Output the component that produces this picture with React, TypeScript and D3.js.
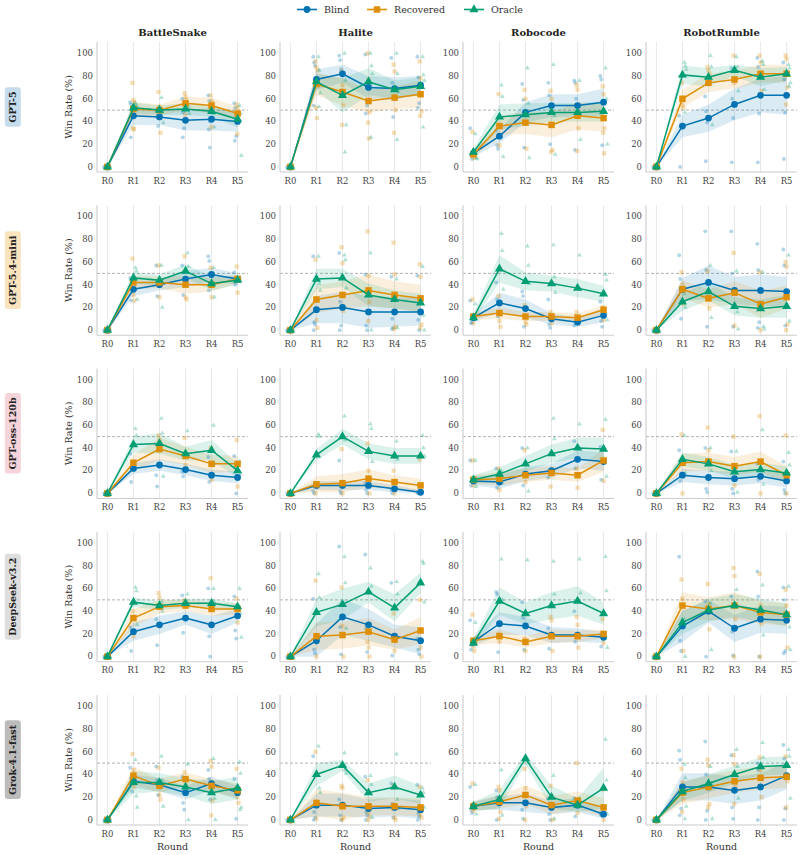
import { useEffect, useRef } from "react";
import * as d3 from "d3";

const GAMES = ["BattleSnake", "Halite", "Robocode", "RobotRumble"];
const MODELS = ["GPT-5", "GPT-5.4-mini", "GPT-oss-120b", "DeepSeek-v3.2", "Grok-4.1-fast"];
const MODEL_BOX = ["#c5dced", "#fae3bf", "#f6d4db", "#dedede", "#bcbcbc"];
const ROUNDS = ["R0", "R1", "R2", "R3", "R4", "R5"];
const SERIES = ["Blind", "Recovered", "Oracle"];
const SERIES_COLORS = ["#0173b2", "#de8f05", "#029e73"];
const Y_TICKS = [0, 20, 40, 60, 80, 100];

// mean win rate per [model][game][round]
const blindMean = [
  [[0, 45, 44, 41, 42, 40], [0, 77, 82, 70, 69, 72], [12, 27, 48, 54, 54, 57], [0, 36, 43, 55, 63, 63]],
  [[0, 36, 40, 45, 49, 45], [0, 18, 20, 16, 16, 16], [11, 24, 19, 10, 7, 13], [0, 36, 42, 35, 35, 34]],
  [[0, 22, 25, 21, 16, 14], [0, 7, 7, 7, 4, 1], [11, 10, 17, 20, 30, 28], [0, 16, 14, 13, 15, 11]],
  [[0, 22, 28, 34, 28, 36], [0, 14, 35, 28, 18, 14], [13, 29, 27, 19, 19, 17], [0, 27, 40, 25, 33, 32]],
  [[0, 34, 31, 24, 32, 24], [0, 13, 13, 10, 11, 9], [12, 15, 15, 11, 13, 5], [0, 29, 29, 26, 29, 39]],
];
const recoveredMean = [
  [[0, 51, 50, 56, 54, 47], [0, 73, 66, 58, 61, 64], [11, 36, 39, 37, 45, 43], [0, 60, 74, 77, 82, 82]],
  [[0, 42, 42, 40, 40, 45], [0, 27, 31, 35, 31, 28], [12, 15, 12, 12, 11, 18], [0, 36, 28, 33, 23, 29]],
  [[0, 27, 39, 33, 26, 26], [0, 8, 9, 13, 10, 7], [12, 13, 16, 18, 16, 29], [0, 27, 28, 24, 28, 16]],
  [[0, 34, 44, 45, 42, 42], [0, 18, 19, 22, 15, 23], [14, 18, 13, 18, 18, 20], [0, 45, 42, 45, 39, 37]],
  [[0, 39, 30, 36, 30, 26], [0, 15, 12, 12, 12, 11], [12, 16, 22, 13, 17, 11], [0, 24, 29, 34, 37, 38]],
];
const oracleMean = [
  [[0, 52, 50, 51, 49, 42], [0, 75, 63, 75, 68, 71], [13, 44, 46, 48, 48, 49], [0, 81, 79, 85, 79, 82]],
  [[0, 46, 44, 52, 41, 44], [0, 45, 46, 31, 27, 24], [11, 54, 43, 41, 37, 32], [0, 25, 34, 21, 19, 21]],
  [[0, 43, 44, 35, 38, 20], [0, 34, 50, 37, 33, 33], [12, 17, 26, 35, 40, 39], [0, 30, 26, 19, 21, 18]],
  [[0, 48, 45, 47, 47, 44], [0, 39, 46, 57, 43, 65], [12, 49, 38, 45, 49, 38], [0, 30, 41, 45, 41, 37]],
  [[0, 33, 33, 29, 24, 28], [0, 40, 48, 24, 29, 22], [12, 18, 54, 20, 13, 28], [0, 25, 32, 40, 47, 48]],
];

// confidence band half-widths per [model][game][round]
const blindCI = [
  [[0, 8, 7, 9, 10, 9], [0, 9, 8, 10, 10, 8], [3, 6, 9, 10, 10, 12], [0, 10, 12, 14, 15, 17]],
  [[0, 6, 5, 7, 6, 5], [0, 12, 14, 14, 13, 12], [3, 9, 8, 5, 4, 6], [0, 10, 15, 12, 14, 13]],
  [[0, 5, 5, 5, 5, 5], [0, 4, 4, 4, 3, 2], [4, 6, 6, 6, 8, 8], [0, 6, 6, 6, 6, 6]],
  [[0, 8, 8, 6, 8, 6], [0, 15, 16, 14, 10, 12], [4, 10, 8, 7, 6, 5], [0, 14, 10, 12, 12, 12]],
  [[0, 6, 6, 6, 6, 6], [0, 10, 10, 8, 8, 8], [4, 6, 8, 6, 6, 4], [0, 12, 12, 12, 12, 12]],
];
const recoveredCI = [
  [[0, 6, 5, 6, 7, 6], [0, 10, 12, 10, 10, 12], [3, 8, 10, 11, 12, 12], [0, 8, 8, 8, 8, 8]],
  [[0, 6, 5, 8, 6, 4], [0, 12, 12, 14, 12, 12], [3, 5, 4, 4, 4, 4], [0, 8, 8, 10, 12, 10]],
  [[0, 7, 10, 8, 8, 7], [0, 7, 8, 8, 6, 6], [4, 6, 6, 6, 6, 10], [0, 8, 8, 8, 9, 8]],
  [[0, 8, 6, 5, 6, 5], [0, 12, 12, 12, 9, 12], [4, 6, 5, 6, 5, 4], [0, 12, 10, 12, 10, 10]],
  [[0, 8, 6, 6, 6, 6], [0, 12, 12, 8, 8, 8], [4, 6, 8, 8, 8, 8], [0, 10, 10, 10, 10, 10]],
];
const oracleCI = [
  [[0, 5, 4, 5, 5, 7], [0, 7, 15, 12, 8, 8], [3, 11, 10, 8, 8, 9], [0, 8, 8, 5, 8, 6]],
  [[0, 5, 5, 6, 6, 4], [0, 9, 8, 10, 8, 8], [3, 12, 8, 7, 8, 7], [0, 8, 8, 8, 8, 10]],
  [[0, 7, 9, 6, 9, 6], [0, 5, 7, 7, 7, 7], [4, 6, 7, 8, 9, 10], [0, 6, 6, 6, 6, 6]],
  [[0, 4, 4, 4, 4, 3], [0, 12, 14, 9, 12, 9], [4, 12, 10, 12, 13, 10], [0, 10, 10, 10, 10, 10]],
  [[0, 10, 8, 8, 10, 10], [0, 10, 5, 8, 10, 8], [4, 8, 5, 10, 6, 18], [0, 8, 8, 8, 8, 8]],
];

// individual runs per [model][game][round]
const blindPts = [
  [
    [[0, 0], [57, 55, 53, 26], [50, 44, 36], [60, 48, 34, 26], [63, 58, 40, 33, 17], [56, 52, 27, 23]],
    [[0, 0], [97, 92, 89, 54], [98, 94, 86], [99, 73, 54, 47], [96, 74, 44], [97, 79, 56, 52]],
    [[34, 10, 7], [32, 19, 16], [73, 59, 17], [74, 63, 20], [76, 74, 60, 15], [80, 77, 19]],
    [[0, 0], [45, 0], [62, 49, 39, 5], [87, 60, 43, 4], [96, 88, 47, 4], [92, 77, 48, 7]],
  ],
  [
    [[0, 0], [46, 26], [57, 30], [57, 31], [65, 61, 39, 35], [51, 40]],
    [[0, 0], [65, 7, 5, 0], [68, 25, 4, 0], [49, 4, 0], [47, 10, 2, 1], [48, 9, 0]],
    [[26, 6, 7], [42, 27, 12], [34, 30, 3], [27, 5, 2], [4], [25, 8, 3]],
    [[0, 0], [66, 45, 10], [87, 53, 3], [87, 50, 3], [76, 53, 7, 2], [71, 57, 4]],
  ],
  [
    [[0, 0], [35, 10], [16, 6], [19, 15], [32, 10], [33, 23, 0]],
    [[0, 0], [2, 0], [29, 2, 0], [9, 3, 0], [3, 0], [1, 0]],
    [[29, 7], [22, 5], [40, 7], [14, 20], [46, 22], [41, 12]],
    [[0, 0], [38, 11], [40, 4, 1], [37, 4, 0], [26, 12], [28, 3, 0]],
  ],
  [
    [[0, 0], [26, 5], [33, 10], [54, 21], [60, 18, 0], [53, 23, 16]],
    [[0, 0], [51, 6, 3], [97, 26, 2], [90, 25, 4], [65, 1], [16, 6, 2]],
    [[32, 6, 10], [57, 55, 4], [48, 34, 6], [25, 7], [40, 13], [19, 9]],
    [[0, 0], [88, 14, 5], [49, 0], [53, 22, 1], [75, 53, 0], [61, 50, 5, 3]],
  ],
  [
    [[0, 0], [46, 37, 25], [47, 35, 22], [38, 15, 9], [44, 36, 18], [36, 26, 1]],
    [[0, 0], [56, 7, 2, 0], [18, 4, 0], [38, 7, 4, 0], [32, 14, 2], [31, 6, 3, 0]],
    [[29, 9, 6], [26, 20, 14, 0], [9, 1], [19, 5, 0], [19, 3], [6, 4]],
    [[0, 0], [61, 53, 10, 4], [69, 40, 8, 0], [57, 11, 1], [50, 44, 11, 0], [66, 54, 10, 0]],
  ],
];
const recoveredPts = [
  [
    [[0, 0], [74, 59, 57, 34, 33], [66, 53, 30], [65, 62, 59, 46], [63, 58, 56, 35], [55, 52, 47, 29]],
    [[0, 0], [93, 88, 85, 52, 43], [84, 72, 54, 37], [100, 77, 48, 39, 25], [90, 84, 50, 30], [93, 78, 49, 45]],
    [[31, 12, 8], [64, 19], [68, 60, 16], [67, 60, 15, 13], [72, 68, 34, 14], [71, 64, 34, 30, 12]],
    [[0, 0], [74, 55, 52], [88, 85, 82], [98, 74], [98, 92, 67], [98, 95, 70, 55]],
  ],
  [
    [[0, 0], [63, 31, 26], [57, 29], [65, 29, 27], [55, 29], [56, 33]],
    [[0, 0], [62, 9, 2], [73, 59, 17], [87, 48, 25, 8], [77, 49, 3, 1], [58, 47, 5, 2]],
    [[27, 6], [30, 8, 3], [22, 7, 5], [16, 6], [16, 9], [20, 9]],
    [[0, 0], [51, 40, 23], [52, 27, 19], [68, 4], [51, 0], [60, 56, 5, 0]],
  ],
  [
    [[0, 0], [27, 24], [51, 47], [49, 25], [40, 12], [47, 6]],
    [[0, 0], [0, 8], [39, 0], [44, 20, 0], [20, 0], [30, 7]],
    [[29, 7], [22, 3], [38, 10], [6, 18], [22, 5], [56, 11]],
    [[0, 0], [52, 0], [58, 38], [50, 7], [68, 0], [51, 0]],
  ],
  [
    [[0, 0], [40, 18], [56, 52], [50, 35], [69, 42], [51, 30]],
    [[0, 0], [67, 0], [61, 27, 0], [13, 8, 0], [38, 5], [50, 8, 0]],
    [[37, 9, 5], [20, 13], [16, 5], [35, 32, 5], [35, 28, 8], [33, 12]],
    [[0, 0], [68, 51, 5], [64, 46, 24], [78, 71, 33, 0], [73, 45, 29, 0], [59, 45, 8]],
  ],
  [
    [[0, 0], [58, 44, 29], [46, 22, 18], [42, 31], [52, 47, 17, 4], [45, 20, 15]],
    [[0, 0], [60, 1], [30, 28, 2, 0], [35, 7, 3, 0], [30, 2, 0], [29, 5, 2]],
    [[32, 8], [29, 26, 7, 1], [45, 28, 12, 0], [30, 12, 0], [50, 6], [27, 0]],
    [[0, 0], [45, 33, 18, 7], [53, 48, 14, 11], [57, 49, 30, 14], [55, 44, 20], [56, 49, 34, 11]],
  ],
];
const oraclePts = [
  [
    [[0, 0], [56, 54, 52], [61, 48, 39], [55, 53, 47], [47, 35], [54, 47, 10]],
    [[0, 0], [97, 85, 65, 53], [100, 76, 37, 13], [100, 89, 82, 26], [100, 82, 66, 24], [97, 81, 76, 35]],
    [[29, 8, 7], [72, 62, 9], [87, 56, 8], [90, 45, 11], [76, 24], [87, 60, 20]],
    [[0, 0], [92, 89, 86, 48], [98, 88, 37], [97, 88, 67], [93, 90, 68], [90, 87, 74, 71]],
  ],
  [
    [[0, 0], [55, 52, 27], [57, 20], [68, 56], [55, 29], [47, 44]],
    [[0, 0], [65, 41, 35], [66, 62, 37], [68, 0], [45, 2], [56, 13, 0]],
    [[23, 9], [85, 70, 36], [74, 57, 41], [75, 47, 33], [66, 36], [49, 44, 9]],
    [[0, 0], [32, 20], [57, 11], [52, 16, 1], [51, 3, 1], [66, 8]],
  ],
  [
    [[0, 0], [57, 51], [66, 53, 15], [55, 34], [60, 26], [28, 17]],
    [[0, 0], [52, 50], [68, 47], [61, 57, 28], [46, 30], [51, 40, 33]],
    [[29, 6], [20, 9], [40, 2], [66, 48], [61, 39], [65, 15]],
    [[0, 0], [51, 18], [40, 20], [37, 1], [56, 8], [36, 25]],
  ],
  [
    [[0, 0], [61, 58, 28], [49, 40], [55, 45], [60, 48], [60, 38, 17]],
    [[0, 0], [73, 52], [88, 65, 25], [78, 62], [66, 55], [84, 82, 48]],
    [[30, 15], [86, 50], [85, 37], [84, 55], [86, 56], [88, 58, 8]],
    [[0, 0], [33, 0], [47, 6], [59, 45], [63, 19], [62, 26, 6]],
  ],
  [
    [[0, 0], [53, 21, 11], [56, 35, 12], [49, 0], [54, 19, 0], [51, 41, 11, 9]],
    [[0, 0], [65, 28, 24], [59, 44, 41], [39, 31, 2], [58, 18, 10], [28, 24, 11]],
    [[31, 5], [44, 4], [52, 50], [39, 1], [19, 13], [71, 35, 5]],
    [[0, 0], [49, 37, 12, 1], [47, 32, 1], [62, 47, 19], [68, 55], [62, 56, 19]],
  ],
];

const MEANS = [blindMean, recoveredMean, oracleMean];
const CIS = [blindCI, recoveredCI, oracleCI];
const PTS = [blindPts, recoveredPts, oraclePts];
const SYMBOLS = [d3.symbolCircle, d3.symbolSquare, d3.symbolTriangle];
const MARK_SIZE = [36, 42, 36];
const DOT_SIZE = [12, 18, 10];
const SERIES_SHIFT = [-0.09, 0, 0.11];

const WIDTH = 803;
const HEIGHT = 855;
const FONT = "DejaVu Serif";
const PANEL_W = 151;
const PANEL_H = 130;
const colLeft = (c: number) => 97 + 183 * c;
const rowTop = (r: number) => 42 + 163.25 * r;

function Panel({ r, c }: { r: number; c: number }) {
  const left = colLeft(c);
  const top = rowTop(r);
  const x = d3.scaleLinear().domain([-0.4, 5.4]).range([left, left + PANEL_W]);
  const y = d3.scaleLinear().domain([-4.5, 110]).range([top + PANEL_H, top]);

  return (
    <g>
      {/* grid */}
      {ROUNDS.map((_, i) => (
        <line key={i} x1={x(i)} x2={x(i)} y1={top} y2={top + PANEL_H} stroke="#e8e8e8" strokeWidth={1} />
      ))}
      <line x1={left} x2={left + PANEL_W} y1={y(50)} y2={y(50)} stroke="#a8a8a8" strokeWidth={0.9} strokeDasharray="3,2" />

      {/* bands */}
      {SERIES.map((_, s) => {
        const m = MEANS[s][r][c];
        const ci = CIS[s][r][c];
        const area = d3
          .area<number>()
          .x((_, i) => x(i))
          .y0((d, i) => y(Math.max(0, d - ci[i])))
          .y1((d, i) => y(Math.min(100, d + ci[i])));
        return <path key={s} d={area(m) || ""} fill={SERIES_COLORS[s]} fillOpacity={0.14} />;
      })}

      {/* individual runs */}
      {SERIES.map((_, s) =>
        PTS[s][r][c].map((vals, ri) =>
          vals.map((v, k) => {
            const jit = ((k % 3) - 1) * 0.035 + (k >= 3 ? 0.02 : 0);
            return (
              <path
                key={`${s}-${ri}-${k}`}
                d={d3.symbol().type(SYMBOLS[s]).size(DOT_SIZE[s])() || ""}
                transform={`translate(${x(ri + SERIES_SHIFT[s] + jit)},${y(v)})`}
                fill={SERIES_COLORS[s]}
                fillOpacity={0.3}
              />
            );
          })
        )
      )}

      {/* mean lines */}
      {SERIES.map((_, s) => {
        const m = MEANS[s][r][c];
        const ln = d3.line<number>().x((_, i) => x(i)).y((d) => y(d));
        return (
          <g key={s}>
            <path d={ln(m) || ""} fill="none" stroke={SERIES_COLORS[s]} strokeWidth={1.5} />
            {m.map((v, i) => (
              <path
                key={i}
                d={d3.symbol().type(SYMBOLS[s]).size(MARK_SIZE[s])() || ""}
                transform={`translate(${x(i)},${y(v)})`}
                fill={SERIES_COLORS[s]}
              />
            ))}
          </g>
        );
      })}

      {/* spines */}
      <line x1={left} x2={left} y1={top} y2={top + PANEL_H} stroke="#cccccc" strokeWidth={1.1} />
      <line x1={left} x2={left + PANEL_W} y1={top + PANEL_H} y2={top + PANEL_H} stroke="#cccccc" strokeWidth={1.1} />

      {/* ticks */}
      {Y_TICKS.map((t) => (
        <text key={t} x={left - 4} y={y(t)} dy="0.33em" textAnchor="end" fontSize={8.5} fill="#444" fontFamily={FONT}>
          {t}
        </text>
      ))}
      {ROUNDS.map((lab, i) => (
        <text key={lab} x={x(i)} y={top + PANEL_H + 11.5} textAnchor="middle" fontSize={8.5} fill="#444" fontFamily={FONT}>
          {lab}
        </text>
      ))}

      {r === 0 && (
        <text x={left + PANEL_W / 2} y={36} textAnchor="middle" fontSize={10} fontWeight="bold" fill="#222" fontFamily={FONT}>
          {GAMES[c]}
        </text>
      )}
      {c === 0 && (
        <text
          transform={`translate(${left - 28},${top + PANEL_H / 2}) rotate(-90)`}
          textAnchor="middle"
          dy="0.35em"
          fontSize={9.5}
          fill="#333"
          fontFamily={FONT}
        >
          Win Rate (%)
        </text>
      )}
      {r === MODELS.length - 1 && (
        <text x={left + PANEL_W / 2} y={top + PANEL_H + 25} textAnchor="middle" fontSize={9.5} fill="#333" fontFamily={FONT}>
          Round
        </text>
      )}
    </g>
  );
}

function Legend() {
  const xs = [307, 377, 474];
  return (
    <g>
      {SERIES.map((name, s) => (
        <g key={name} transform={`translate(${xs[s]},9.5)`}>
          <line x1={-10} x2={10} y1={0} y2={0} stroke={SERIES_COLORS[s]} strokeWidth={1.6} />
          <path d={d3.symbol().type(SYMBOLS[s]).size(MARK_SIZE[s])() || ""} fill={SERIES_COLORS[s]} />
          <text x={17} dy="0.35em" fontSize={9.5} fill="#333" fontFamily={FONT}>
            {name}
          </text>
        </g>
      ))}
    </g>
  );
}

export default function App() {
  const svgRef = useRef<SVGSVGElement>(null);

  useEffect(() => {
    // size the row label boxes to their text
    const svg = d3.select(svgRef.current);
    svg.selectAll<SVGGElement, unknown>(".rowlabel").each(function () {
      const g = d3.select(this);
      const bb = (g.select("text").node() as SVGTextElement).getBBox();
      g.select("rect")
        .attr("x", bb.x - 4)
        .attr("y", bb.y - 2.5)
        .attr("width", bb.width + 8)
        .attr("height", bb.height + 5);
    });
  }, []);

  return (
    <svg ref={svgRef} width={WIDTH} height={HEIGHT} style={{ position: "absolute", left: 0, top: 0, background: "#fff" }}>
      <Legend />
      {MODELS.map((m, r) => (
        <g key={m} className="rowlabel" transform={`translate(13,${rowTop(r) + PANEL_H / 2}) rotate(-90)`}>
          <rect rx={3} fill={MODEL_BOX[r]} />
          <text textAnchor="middle" dy="0.35em" fontSize={9.5} fontWeight="bold" fill="#222" fontFamily={FONT}>
            {m}
          </text>
        </g>
      ))}
      {MODELS.map((_, r) => GAMES.map((__, c) => <Panel key={`${r}-${c}`} r={r} c={c} />))}
    </svg>
  );
}
